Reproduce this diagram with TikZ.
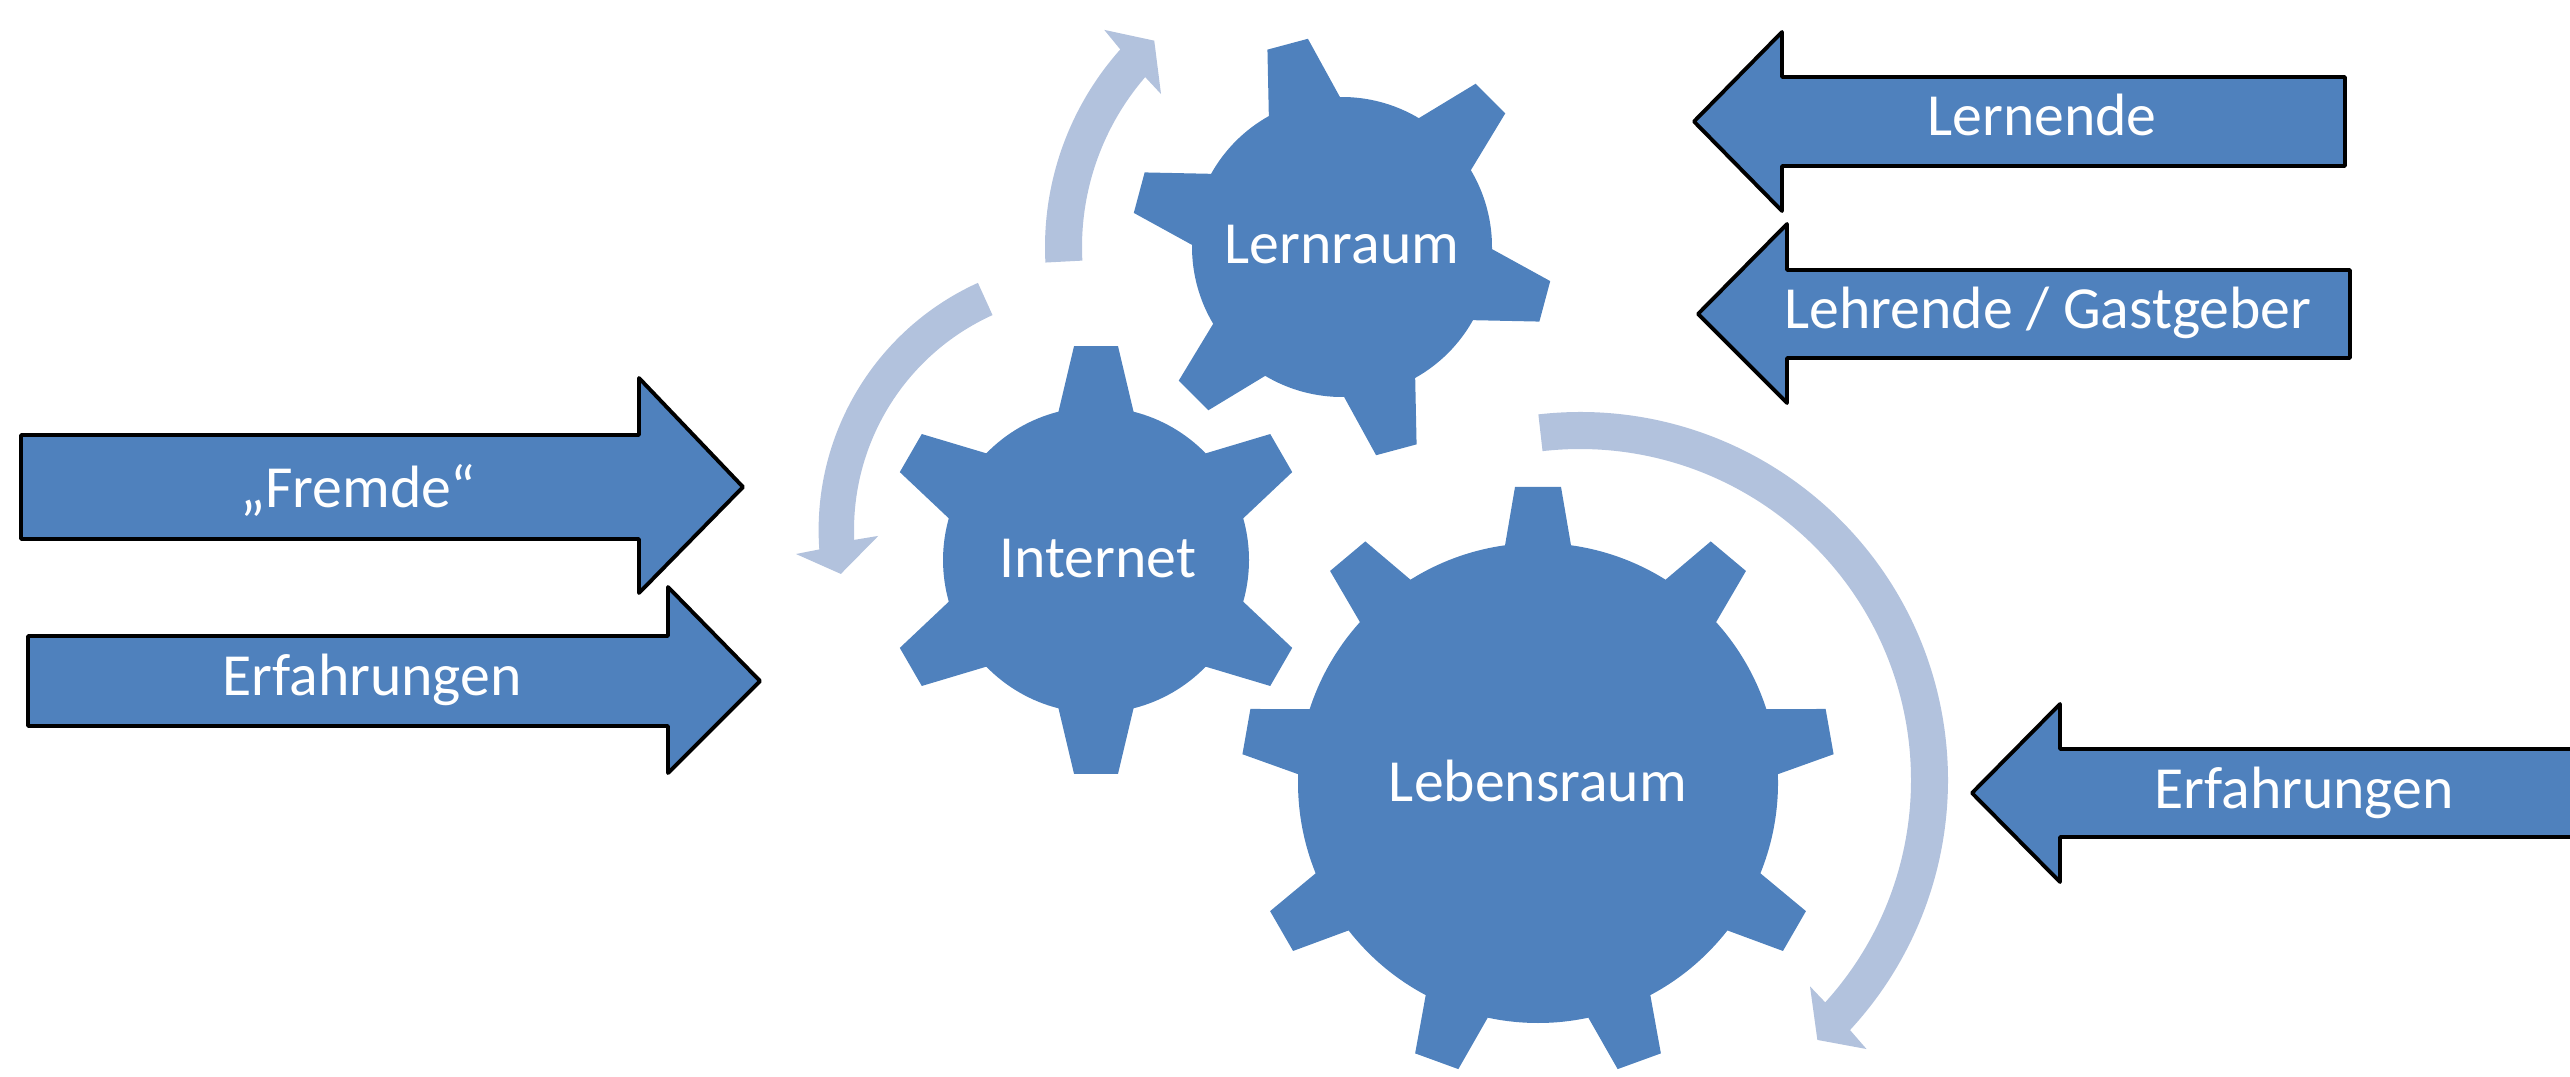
\documentclass[tikz,border=0pt]{standalone}
\usepackage{fontspec}
\setmainfont{Carlito}
\definecolor{gearblue}{RGB}{79,129,189}
\definecolor{ringblue}{RGB}{178,194,221}

% #1 centre, #2 teeth, #3 turn, #4 body radius, #5 tip radius, #6 base half angle, #7 tip half angle
\newcommand{\drawgear}[7]{%
  \begin{scope}[shift={#1}, rotate=#3]
    \fill[gearfill] (-#6:#4) \foreach \k in {1,...,#2} {
      -- ({(\k-1)*360/#2-#7}:#5) -- ({(\k-1)*360/#2+#7}:#5) -- ({(\k-1)*360/#2+#6}:#4)
      arc[start angle={(\k-1)*360/#2+#6}, end angle={\k*360/#2-#6}, radius=#4]
    } -- cycle;
  \end{scope}}

\begin{document}
\begin{tikzpicture}[
  lbl/.style={text=white, font=\fontsize{17}{20}\selectfont, anchor=base, inner sep=0pt},
  blockarrow/.style={draw=black, fill=gearblue, line width=1.1pt, line join=round},
  ringarrow/.style={fill=ringblue},
  gearfill/.style={fill=gearblue}]
\useasboundingbox (0,0) rectangle (25.7,10.76);
\clip (0,0) rectangle (25.7,10.76);

\coordinate (lern) at (13.42,8.29);
\coordinate (inet) at (10.96,5.16);
\coordinate (leben) at (15.38,2.93);

% curved arrows
\begin{scope}[shift={(lern)}]
\fill[ringarrow] (183:2.97) arc[start angle=183, end angle=138.3, radius=2.97] -- (137.6:3.22) -- (132.3:2.79)
  -- (139.8:2.37) -- (139.2:2.60) arc[start angle=139.2, end angle=183, radius=2.60] -- cycle;
\end{scope}
\begin{scope}[shift={(10.90,5.46)}]
\fill[ringarrow] (114.4:2.714) arc[start angle=114.4, end angle=184.1, radius=2.714] -- (184.67:2.95) -- (190:2.53)
  -- (181.6:2.118) -- (182.4:2.36) arc[start angle=182.4, end angle=114.4, radius=2.36] -- cycle;
\end{scope}
\begin{scope}[shift={(15.80,2.96)}]
\fill[ringarrow] (96.5:3.68) arc[start angle=96.5, end angle=-42.8, radius=3.68] -- (-43.2:3.93) -- (-47.6:3.52)
  -- (-41.9:3.09) -- (-42.2:3.31) arc[start angle=-42.2, end angle=96.5, radius=3.31] -- cycle;
\end{scope}

% gears
\drawgear{(lern)}{6}{45}{1.50}{2.11}{14.2}{5.7}
\drawgear{(inet)}{6}{30}{1.53}{2.15}{14.2}{5.87}
\drawgear{(leben)}{9}{10}{2.40}{2.97}{7.9}{4.44}

\node[lbl] (lernraum) at (13.42,8.12) {Lernraum};
\node[lbl] (internet) at (10.98,4.99) {Internet};
\node[lbl] (lebensraum) at (15.38,2.75) {Lebensraum};

% block arrows
\draw[blockarrow] (0.21,6.41) -- (6.39,6.41) -- (6.39,6.98) -- (7.43,5.89) -- (6.39,4.83) -- (6.39,5.37) -- (0.21,5.37) -- cycle;
\draw[blockarrow] (0.28,4.40) -- (6.68,4.40) -- (6.68,4.89) -- (7.60,3.95) -- (6.68,3.03) -- (6.68,3.50) -- (0.28,3.50) -- cycle;
\draw[blockarrow] (23.45,9.99) -- (17.82,9.99) -- (17.82,10.44) -- (16.94,9.545) -- (17.82,8.65) -- (17.82,9.10) -- (23.45,9.10) -- cycle;
\draw[blockarrow] (23.50,8.06) -- (17.87,8.06) -- (17.87,8.52) -- (16.98,7.62) -- (17.87,6.73) -- (17.87,7.18) -- (23.50,7.18) -- cycle;
\draw[blockarrow] (26.00,3.27) -- (20.60,3.27) -- (20.60,3.72) -- (19.72,2.83) -- (20.60,1.94) -- (20.60,2.39) -- (26.00,2.39) -- cycle;

\node[lbl] (fremde) at (3.58,5.69) {„Fremde“};
\node[lbl] (erfahrungenL) at (3.72,3.81) {Erfahrungen};
\node[lbl] (lernende) at (20.42,9.40) {Lernende};
\node[lbl] (lehrende) at (20.48,7.48) {Lehrende / Gastgeber};
\node[lbl] (erfahrungenR) at (23.04,2.68) {Erfahrungen};
\end{tikzpicture}
\end{document}
